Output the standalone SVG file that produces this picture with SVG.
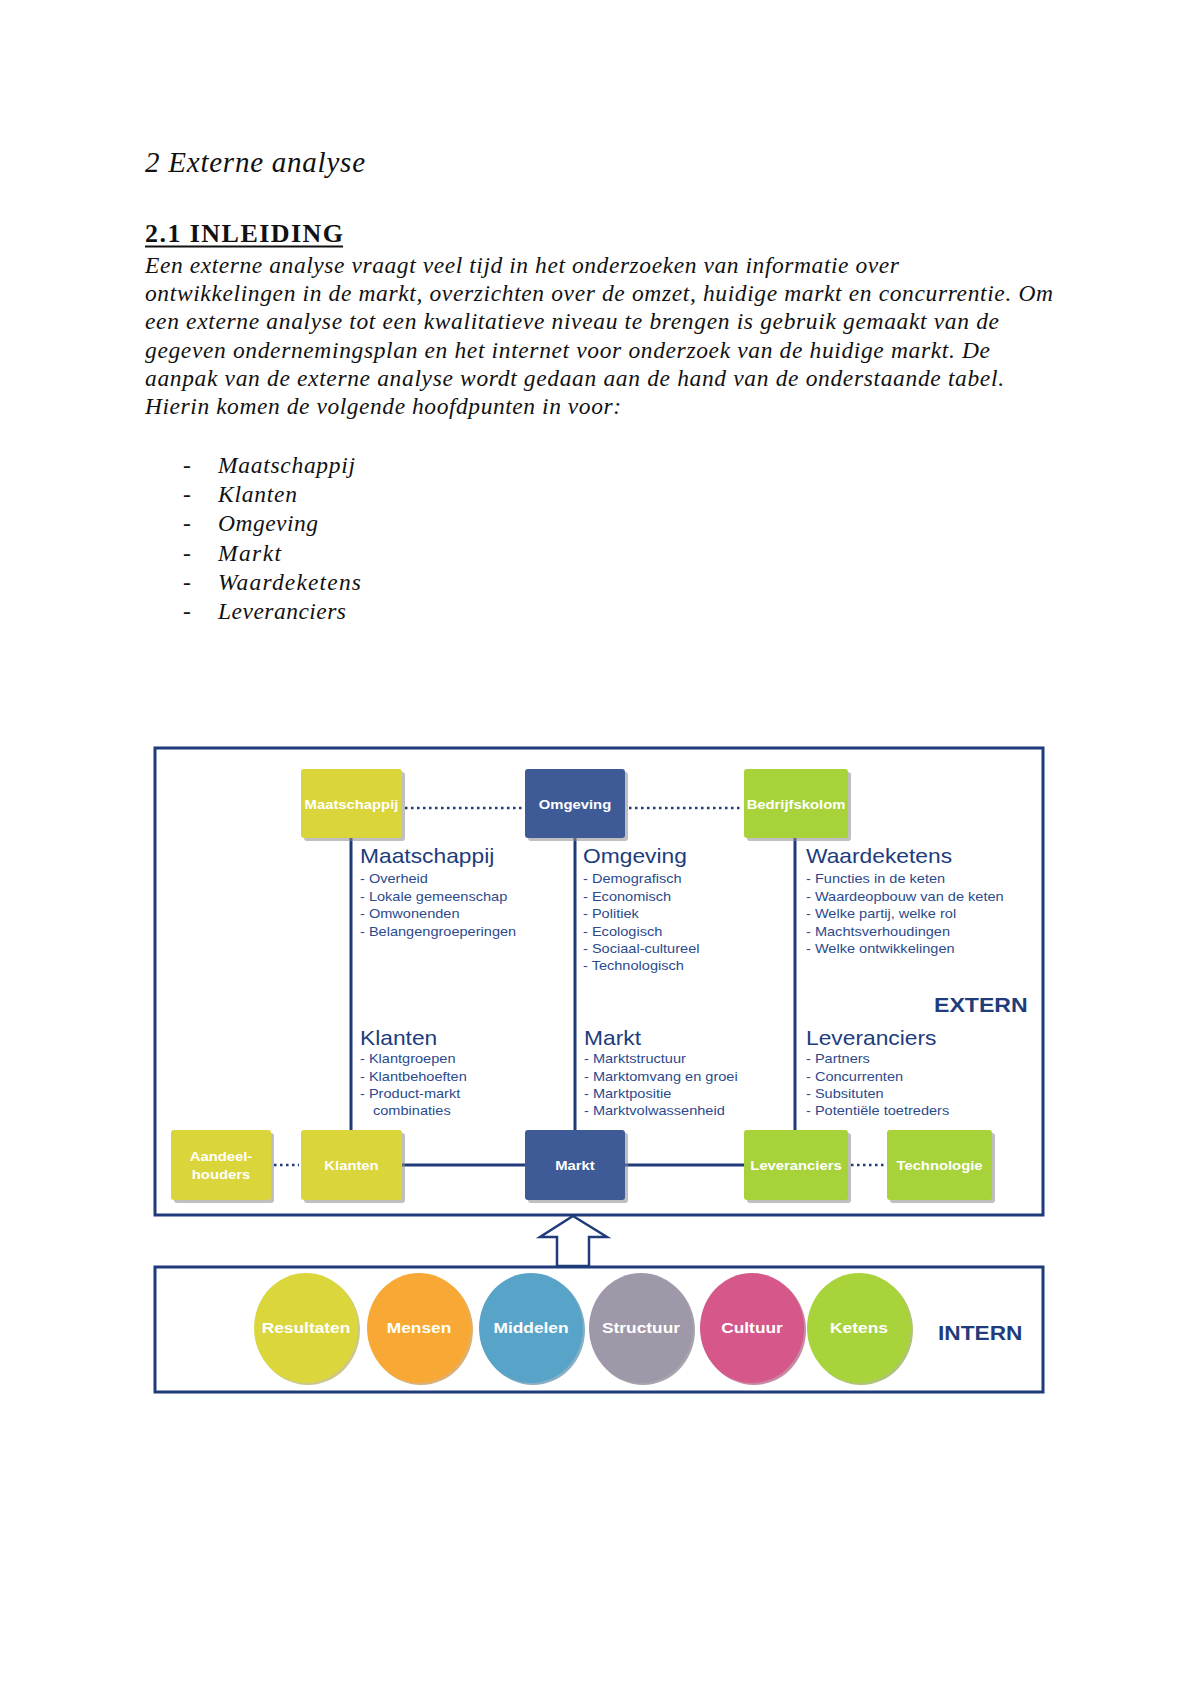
<svg xmlns="http://www.w3.org/2000/svg" width="1200" height="1698" viewBox="0 0 1200 1698">
<style>
.body{font-family:"Liberation Serif",serif;font-style:italic;font-size:23.5px;fill:#111}
.h1{font-family:"Liberation Serif",serif;font-style:italic;font-size:29px;fill:#111}
.h2{font-family:"Liberation Serif",serif;font-weight:bold;font-size:26px;fill:#111}
.frame{fill:none;stroke:#1f3b7a;stroke-width:3}
.conn{stroke:#1f3b7a;stroke-width:3;fill:none}
.dot{stroke:#1f3b7a;stroke-width:2.5;stroke-dasharray:2.5 3.5;fill:none}
.shadow{fill:#8a8a8a;opacity:0.55}
.yel{fill:#dad53b}
.navy{fill:#3e5b97}
.lime{fill:#a8d23a}
.blbl{font-family:"Liberation Sans",Arial,sans-serif;font-weight:bold;font-size:13px;fill:#fff;text-anchor:middle}
.head{font-family:"Liberation Sans",Arial,sans-serif;font-size:20px;fill:#203c7c}
.item{font-family:"Liberation Sans",Arial,sans-serif;font-size:13px;fill:#2c4a8c}
.big{font-family:"Liberation Sans",Arial,sans-serif;font-weight:bold;font-size:21px;fill:#203c7c}
.clbl{font-family:"Liberation Sans",Arial,sans-serif;font-weight:bold;font-size:15.5px;fill:#fff;text-anchor:middle}
</style>
<rect width="1200" height="1698" fill="#fff"/>

<g id="document-text">
<text class="h1" x="145" y="172" textLength="220">2 Externe analyse</text>
<text class="h2" x="145" y="242" textLength="198">2.1 INLEIDING</text>
<line x1="145" y1="246.5" x2="343" y2="246.5" stroke="#111" stroke-width="2"/>
<text class="body" x="145" y="273" textLength="754">Een externe analyse vraagt veel tijd in het onderzoeken van informatie over</text>
<text class="body" x="145" y="301" textLength="908">ontwikkelingen in de markt, overzichten over de omzet, huidige markt en concurrentie. Om</text>
<text class="body" x="145" y="329" textLength="854">een externe analyse tot een kwalitatieve niveau te brengen is gebruik gemaakt van de</text>
<text class="body" x="145" y="358" textLength="845">gegeven ondernemingsplan en het internet voor onderzoek van de huidige markt. De</text>
<text class="body" x="145" y="386" textLength="859">aanpak van de externe analyse wordt gedaan aan de hand van de onderstaande tabel.</text>
<text class="body" x="145" y="414" textLength="476">Hierin komen de volgende hoofdpunten in voor:</text>
<g class="body">
<text x="183" y="473">-</text><text x="218" y="473" textLength="137">Maatschappij</text>
<text x="183" y="502">-</text><text x="218" y="502" textLength="79">Klanten</text>
<text x="183" y="531">-</text><text x="218" y="531" textLength="100">Omgeving</text>
<text x="183" y="561">-</text><text x="218" y="561" textLength="63">Markt</text>
<text x="183" y="590">-</text><text x="218" y="590" textLength="143">Waardeketens</text>
<text x="183" y="619">-</text><text x="218" y="619" textLength="128">Leveranciers</text>
</g>
</g>

<g id="frames">
<rect class="frame" x="155" y="748" width="888" height="467"/>
<rect class="frame" x="155" y="1267" width="888" height="125"/>
</g>

<g id="connectors">
<line class="conn" x1="351" y1="838" x2="351" y2="1130"/>
<line class="conn" x1="575" y1="838" x2="575" y2="1130"/>
<line class="conn" x1="795" y1="838" x2="795" y2="1130"/>
<line class="conn" x1="402" y1="1165" x2="525" y2="1165"/>
<line class="conn" x1="625" y1="1165" x2="744" y2="1165"/>
<line class="dot" x1="405" y1="808" x2="522" y2="808"/>
<line class="dot" x1="629" y1="808" x2="742" y2="808"/>
<line class="dot" x1="274" y1="1165" x2="299" y2="1165"/>
<line class="dot" x1="851" y1="1165" x2="885" y2="1165"/>
<path d="M573,1216 L607,1237 L589,1237 L589,1266 L557,1266 L557,1237 L540,1237 Z" fill="#fff" stroke="#1f3b7a" stroke-width="2.5" stroke-linejoin="miter"/>
</g>

<g id="node-maatschappij">
<rect class="shadow" x="304" y="772" width="101" height="69" rx="3"/>
<rect class="yel" x="301" y="769" width="101" height="69" rx="3"/>
<text class="blbl" transform="translate(351.5,809) scale(1.14,1)">Maatschappij</text>
</g>
<g id="node-omgeving">
<rect class="shadow" x="528" y="772" width="100" height="69" rx="3"/>
<rect class="navy" x="525" y="769" width="100" height="69" rx="3"/>
<text class="blbl" transform="translate(575,809) scale(1.14,1)">Omgeving</text>
</g>
<g id="node-bedrijfskolom">
<rect class="shadow" x="747" y="772" width="104" height="69" rx="3"/>
<rect class="lime" x="744" y="769" width="104" height="69" rx="3"/>
<text class="blbl" transform="translate(796,809) scale(1.14,1)">Bedrijfskolom</text>
</g>
<g id="node-aandeelhouders">
<rect class="shadow" x="174" y="1133" width="100" height="70" rx="3"/>
<rect class="yel" x="171" y="1130" width="100" height="70" rx="3"/>
<text class="blbl" transform="translate(221,1161) scale(1.14,1)">Aandeel-</text>
<text class="blbl" transform="translate(221,1179) scale(1.14,1)">houders</text>
</g>
<g id="node-klanten">
<rect class="shadow" x="304" y="1133" width="101" height="70" rx="3"/>
<rect class="yel" x="301" y="1130" width="101" height="70" rx="3"/>
<text class="blbl" transform="translate(351.5,1170) scale(1.14,1)">Klanten</text>
</g>
<g id="node-markt">
<rect class="shadow" x="528" y="1133" width="100" height="70" rx="3"/>
<rect class="navy" x="525" y="1130" width="100" height="70" rx="3"/>
<text class="blbl" transform="translate(575,1170) scale(1.14,1)">Markt</text>
</g>
<g id="node-leveranciers">
<rect class="shadow" x="747" y="1133" width="104" height="70" rx="3"/>
<rect class="lime" x="744" y="1130" width="104" height="70" rx="3"/>
<text class="blbl" transform="translate(796,1170) scale(1.14,1)">Leveranciers</text>
</g>
<g id="node-technologie">
<rect class="shadow" x="890" y="1133" width="105" height="70" rx="3"/>
<rect class="lime" x="887" y="1130" width="105" height="70" rx="3"/>
<text class="blbl" transform="translate(939.5,1170) scale(1.14,1)">Technologie</text>
</g>

<g id="block-maatschappij">
<text class="head" transform="translate(360,863) scale(1.14,1)">Maatschappij</text>
<text class="item" transform="translate(360,883) scale(1.12,1)">- Overheid</text>
<text class="item" transform="translate(360,901) scale(1.12,1)">- Lokale gemeenschap</text>
<text class="item" transform="translate(360,918) scale(1.12,1)">- Omwonenden</text>
<text class="item" transform="translate(360,936) scale(1.12,1)">- Belangengroeperingen</text>
</g>
<g id="block-omgeving">
<text class="head" transform="translate(583,863) scale(1.14,1)">Omgeving</text>
<text class="item" transform="translate(583,883) scale(1.12,1)">- Demografisch</text>
<text class="item" transform="translate(583,901) scale(1.12,1)">- Economisch</text>
<text class="item" transform="translate(583,918) scale(1.12,1)">- Politiek</text>
<text class="item" transform="translate(583,936) scale(1.12,1)">- Ecologisch</text>
<text class="item" transform="translate(583,953) scale(1.12,1)">- Sociaal-cultureel</text>
<text class="item" transform="translate(583,970) scale(1.12,1)">- Technologisch</text>
</g>
<g id="block-waardeketens">
<text class="head" transform="translate(806,863) scale(1.14,1)">Waardeketens</text>
<text class="item" transform="translate(806,883) scale(1.12,1)">- Functies in de keten</text>
<text class="item" transform="translate(806,901) scale(1.12,1)">- Waardeopbouw van de keten</text>
<text class="item" transform="translate(806,918) scale(1.12,1)">- Welke partij, welke rol</text>
<text class="item" transform="translate(806,936) scale(1.12,1)">- Machtsverhoudingen</text>
<text class="item" transform="translate(806,953) scale(1.12,1)">- Welke ontwikkelingen</text>
</g>
<g id="block-klanten">
<text class="head" transform="translate(360,1045) scale(1.14,1)">Klanten</text>
<text class="item" transform="translate(360,1063) scale(1.12,1)">- Klantgroepen</text>
<text class="item" transform="translate(360,1081) scale(1.12,1)">- Klantbehoeften</text>
<text class="item" transform="translate(360,1098) scale(1.12,1)">- Product-markt</text>
<text class="item" transform="translate(373,1115) scale(1.12,1)">combinaties</text>
</g>
<g id="block-markt">
<text class="head" transform="translate(584,1045) scale(1.14,1)">Markt</text>
<text class="item" transform="translate(584,1063) scale(1.12,1)">- Marktstructuur</text>
<text class="item" transform="translate(584,1081) scale(1.12,1)">- Marktomvang en groei</text>
<text class="item" transform="translate(584,1098) scale(1.12,1)">- Marktpositie</text>
<text class="item" transform="translate(584,1115) scale(1.12,1)">- Marktvolwassenheid</text>
</g>
<g id="block-leveranciers">
<text class="head" transform="translate(806,1045) scale(1.14,1)">Leveranciers</text>
<text class="item" transform="translate(806,1063) scale(1.12,1)">- Partners</text>
<text class="item" transform="translate(806,1081) scale(1.12,1)">- Concurrenten</text>
<text class="item" transform="translate(806,1098) scale(1.12,1)">- Subsituten</text>
<text class="item" transform="translate(806,1115) scale(1.12,1)">- Potentiële toetreders</text>
</g>
<text id="label-extern" class="big" transform="translate(934,1012) scale(1.1,1)">EXTERN</text>

<g id="node-resultaten">
<ellipse cx="308" cy="1330" rx="52" ry="55" fill="#a8a43a" opacity="0.6"/>
<ellipse cx="306" cy="1328" rx="52" ry="55" fill="#dbd63c"/>
<text class="clbl" transform="translate(306,1333) scale(1.12,1)">Resultaten</text>
</g>
<g id="node-mensen">
<ellipse cx="421" cy="1330" rx="52" ry="55" fill="#c07e22" opacity="0.6"/>
<ellipse cx="419" cy="1328" rx="52" ry="55" fill="#f8a935"/>
<text class="clbl" transform="translate(419,1333) scale(1.12,1)">Mensen</text>
</g>
<g id="node-middelen">
<ellipse cx="533" cy="1330" rx="52" ry="55" fill="#3a7a9a" opacity="0.6"/>
<ellipse cx="531" cy="1328" rx="52" ry="55" fill="#58a4c9"/>
<text class="clbl" transform="translate(531,1333) scale(1.12,1)">Middelen</text>
</g>
<g id="node-structuur">
<ellipse cx="643" cy="1330" rx="52" ry="55" fill="#6e6878" opacity="0.6"/>
<ellipse cx="641" cy="1328" rx="52" ry="55" fill="#9f98a9"/>
<text class="clbl" transform="translate(641,1333) scale(1.12,1)">Structuur</text>
</g>
<g id="node-cultuur">
<ellipse cx="754" cy="1330" rx="52" ry="55" fill="#a03a64" opacity="0.6"/>
<ellipse cx="752" cy="1328" rx="52" ry="55" fill="#d6588a"/>
<text class="clbl" transform="translate(752,1333) scale(1.12,1)">Cultuur</text>
</g>
<g id="node-ketens">
<ellipse cx="861" cy="1330" rx="52" ry="55" fill="#7a9a28" opacity="0.6"/>
<ellipse cx="859" cy="1328" rx="52" ry="55" fill="#a9d33b"/>
<text class="clbl" transform="translate(859,1333) scale(1.12,1)">Ketens</text>
</g>
<text id="label-intern" class="big" transform="translate(938,1340) scale(1.08,1)">INTERN</text>
</svg>
